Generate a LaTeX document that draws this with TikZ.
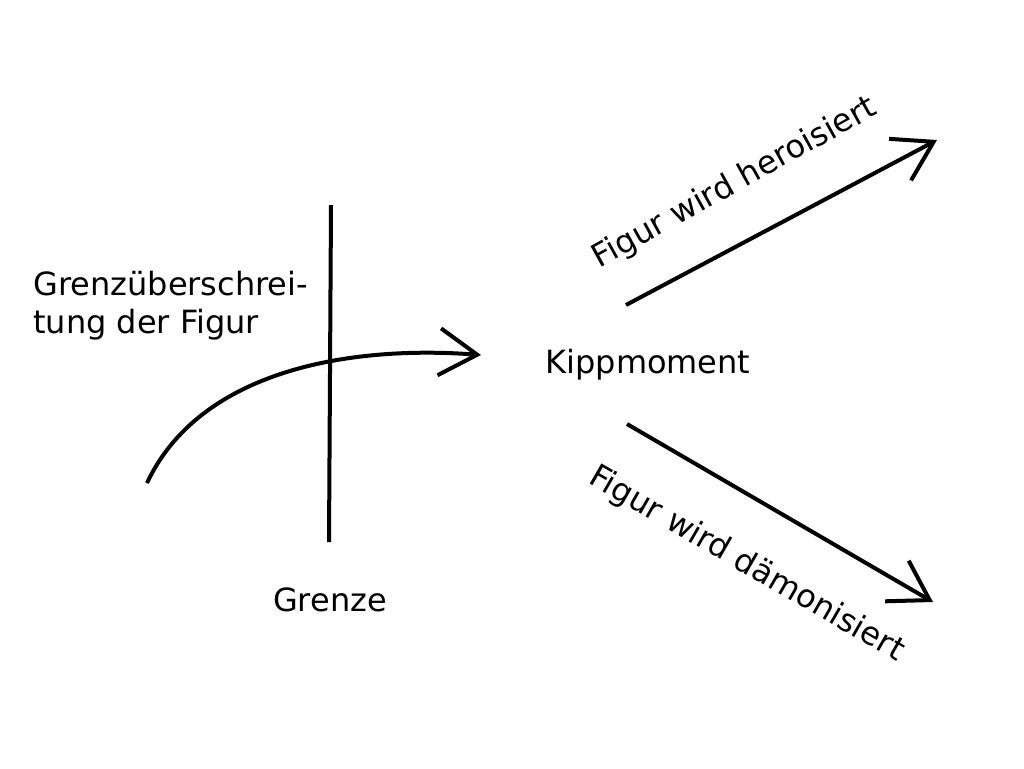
\documentclass[tikz,border=0pt]{standalone}
\usepackage{fontspec}
\setmainfont{DejaVu Sans}
\usetikzlibrary{arrows.meta}
\begin{document}
\begin{tikzpicture}[x=0.5pt,y=-0.5pt,
  lbl/.style={inner sep=0pt,font=\fontsize{16}{19}\selectfont},
  strk/.style={line width=2pt},
  arr/.style={strk,-{Straight Barb[length=19pt,width=23.5pt,line width=2pt]}}]
\useasboundingbox (0,0) rectangle (1024,768);
% border line
\coordinate (gtop) at (331,205);
\coordinate (gbot) at (329,542);
\draw[strk] (gtop) -- (gbot);
% crossing curve
\coordinate (cstart) at (147,483);
\coordinate (cend) at (481,355);
\draw[arr] (cstart) .. controls (200,370) and (350,345) .. (cend);
% labels
\node[lbl,anchor=north west,align=left] (ueber) at (33,271) {Grenzüberschrei-\\tung der Figur};
\node[lbl,anchor=base] (kipp) at (648,373) {Kippmoment};
\node[lbl,anchor=base] (grenze) at (330,611) {Grenze};
% outgoing arrows
\coordinate (ustart) at (626,305);
\coordinate (uend) at (937,140);
\coordinate (dstart) at (627,424);
\coordinate (dend) at (933,602);
\draw[arr] (ustart) -- (uend);
\draw[arr] (dstart) -- (dend);
\node[lbl,anchor=base,rotate=29] (hero) at (739,191) {Figur wird heroisiert};
\node[lbl,anchor=base,rotate=-30] (daemon) at (742,572) {Figur wird dämonisiert};
\end{tikzpicture}
\end{document}
